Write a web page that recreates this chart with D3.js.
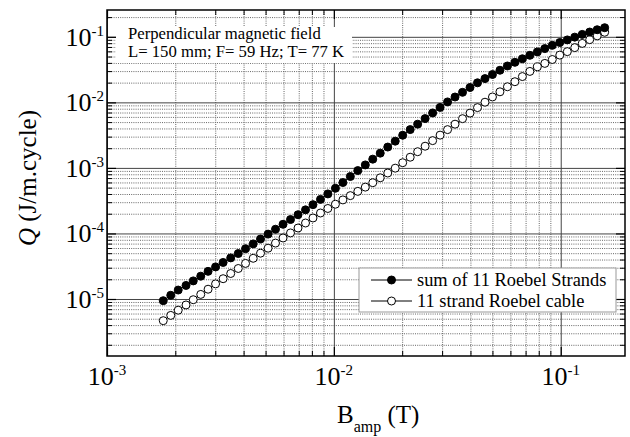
<!DOCTYPE html>
<html>
<head>
<meta charset="utf-8">
<script src="https://cdn.jsdelivr.net/npm/d3@7"></script>
<style>
  body { margin: 0; background: #fff; }
  text { font-family: "Liberation Serif", "Times New Roman", serif; fill: #000; }
</style>
</head>
<body>
<div id="chart"></div>
<script>
// B amplitude (T), shared by both series
const bAmp = [
  0.00177, 0.00191, 0.00206, 0.00223, 0.00240, 0.00259, 0.00279, 0.00301, 0.00325, 0.00351,
  0.00379, 0.00408, 0.00441, 0.00475, 0.00513, 0.00553, 0.00597, 0.00644, 0.00695, 0.00750,
  0.00809, 0.00873, 0.00941, 0.01016, 0.01096, 0.01182, 0.01275, 0.01376, 0.01484, 0.01601,
  0.01728, 0.01864, 0.02011, 0.02170, 0.02341, 0.02525, 0.02725, 0.02939, 0.03171, 0.03421,
  0.03691, 0.03982, 0.04297, 0.04636, 0.05001, 0.05396, 0.05821, 0.06280, 0.06776, 0.07310,
  0.07887, 0.08509, 0.09180, 0.09904, 0.1069, 0.1153, 0.1244, 0.1342, 0.1448, 0.1562
];
// Q (J/m.cycle), sum of 11 Roebel strands
const qStrands = [
  9.42e-6, 1.14e-5, 1.37e-5, 1.61e-5, 1.89e-5, 2.23e-5, 2.64e-5, 3.09e-5, 3.61e-5, 4.24e-5,
  4.94e-5, 5.85e-5, 6.93e-5, 8.22e-5, 9.77e-5, 1.16e-4, 1.38e-4, 1.63e-4, 1.93e-4, 2.29e-4,
  2.75e-4, 3.31e-4, 4.01e-4, 4.89e-4, 5.98e-4, 7.39e-4, 9.10e-4, 1.11e-3, 1.36e-3, 1.68e-3,
  2.08e-3, 2.56e-3, 3.15e-3, 3.84e-3, 4.65e-3, 5.65e-3, 6.89e-3, 8.38e-3, 1.016e-2, 1.207e-2,
  1.423e-2, 1.686e-2, 1.988e-2, 2.303e-2, 2.661e-2, 3.090e-2, 3.589e-2, 4.083e-2, 4.624e-2, 5.224e-2,
  5.888e-2, 6.607e-2, 7.413e-2, 8.185e-2, 8.97e-2, 9.89e-2, 0.1089, 0.1183, 0.1282, 0.1377
];
// Q (J/m.cycle), 11 strand Roebel cable
const qCable = [
  4.67e-6, 5.62e-6, 6.75e-6, 8.11e-6, 9.75e-6, 1.175e-5, 1.41e-5, 1.70e-5, 2.04e-5, 2.45e-5,
  2.92e-5, 3.49e-5, 4.18e-5, 5.00e-5, 5.96e-5, 7.13e-5, 8.53e-5, 1.018e-4, 1.211e-4, 1.443e-4,
  1.722e-4, 2.051e-4, 2.405e-4, 2.793e-4, 3.251e-4, 3.776e-4, 4.385e-4, 5.093e-4, 5.943e-4, 7.063e-4,
  8.36e-4, 9.91e-4, 1.200e-3, 1.456e-3, 1.766e-3, 2.143e-3, 2.606e-3, 3.163e-3, 3.838e-3, 4.645e-3,
  5.64e-3, 6.855e-3, 8.32e-3, 1.005e-2, 1.209e-2, 1.449e-2, 1.730e-2, 2.066e-2, 2.475e-2, 2.966e-2,
  3.481e-2, 3.93e-2, 4.505e-2, 5.26e-2, 5.94e-2, 6.84e-2, 7.93e-2, 9.05e-2, 0.1033, 0.1173
];
const seriesNames = ["sum of 11 Roebel Strands", "11 strand Roebel cable"];
const noteLines = ["Perpendicular magnetic field", "L= 150 mm; F= 59 Hz; T= 77 K"];
const xDecades = [1e-3, 1e-2, 1e-1];
const xExp = ["-3", "-2", "-1"];
const yDecades = [1e-5, 1e-4, 1e-3, 1e-2, 1e-1];
const yExp = ["-5", "-4", "-3", "-2", "-1"];

const width = 630, height = 437;
const margin = {top: 10, right: 5, bottom: 81, left: 107};
const iw = width - margin.left - margin.right;
const ih = height - margin.top - margin.bottom;

const x = d3.scaleLog().domain([1e-3, 0.192]).range([0, iw]);
const y = d3.scaleLog().domain([1.35e-6, 0.2565]).range([ih, 0]);

// minor positions 2..9 x 10^k inside each domain
function minors(scale) {
  const [lo, hi] = scale.domain();
  const out = [];
  for (let k = -7; k <= 1; k++) {
    for (let j = 2; j <= 9; j++) {
      const v = j * Math.pow(10, k);
      if (v > lo && v < hi) out.push(v);
    }
  }
  return out;
}
const xMinor = minors(x), yMinor = minors(y);

const svg = d3.select("#chart").append("svg")
  .attr("width", width)
  .attr("height", height)
  .style("background", "#fff");

const g = svg.append("g").attr("transform", `translate(${margin.left},${margin.top})`);

const noLabel = () => "";
const clean = sel => sel.select(".domain").remove();

// grid: minor dotted, major solid
g.append("g").attr("transform", `translate(0,${ih})`)
  .call(d3.axisBottom(x).tickValues(xMinor).tickSize(-ih).tickFormat(noLabel))
  .call(clean)
  .selectAll("line").attr("stroke", "#666").attr("stroke-dasharray", "1,1.2");
g.append("g")
  .call(d3.axisLeft(y).tickValues(yMinor).tickSize(-iw).tickFormat(noLabel))
  .call(clean)
  .selectAll("line").attr("stroke", "#666").attr("stroke-dasharray", "1,1.2");
g.append("g").attr("transform", `translate(0,${ih})`)
  .call(d3.axisBottom(x).tickValues(xDecades).tickSize(-ih).tickFormat(noLabel))
  .call(clean)
  .selectAll("line").attr("stroke", "#444");
g.append("g")
  .call(d3.axisLeft(y).tickValues(yDecades).tickSize(-iw).tickFormat(noLabel))
  .call(clean)
  .selectAll("line").attr("stroke", "#444");

// note box (white, hides the grid)
const note = svg.append("g");
note.append("rect")
  .attr("x", 116).attr("y", 27).attr("width", 236).attr("height", 36)
  .attr("fill", "#fff");
note.selectAll("text").data(noteLines).join("text")
  .attr("x", 128)
  .attr("y", (d, i) => 39 + i * 18)
  .attr("font-size", "16.7px")
  .text(d => d);

// data
const strands = bAmp.map((b, i) => [b, qStrands[i]]);
const cable = bAmp.map((b, i) => [b, qCable[i]]);
const line = d3.line().x(d => x(d[0])).y(d => y(d[1]));

[cable, strands].forEach(data => {
  const filled = data === strands;
  g.append("path").datum(data)
    .attr("d", line)
    .attr("fill", "none")
    .attr("stroke", "#000")
    .attr("stroke-width", 1);
  g.append("g").selectAll("circle").data(data).join("circle")
    .attr("cx", d => x(d[0]))
    .attr("cy", d => y(d[1]))
    .attr("r", 4)
    .attr("fill", filled ? "#000" : "#fff")
    .attr("stroke", "#000")
    .attr("stroke-width", 1);
});

// legend
const legend = svg.append("g");
legend.append("rect")
  .attr("x", 359).attr("y", 268).attr("width", 257).attr("height", 44)
  .attr("fill", "#fff").attr("stroke", "#999").attr("stroke-width", 1);
const rows = legend.selectAll("g.row").data(seriesNames).join("g")
  .attr("class", "row")
  .attr("transform", (d, i) => `translate(0,${280 + i * 21})`);
rows.append("line")
  .attr("x1", 371).attr("x2", 412).attr("y1", 0).attr("y2", 0)
  .attr("stroke", "#000");
rows.append("circle")
  .attr("cx", 391.5).attr("cy", 0).attr("r", 4)
  .attr("fill", (d, i) => i === 0 ? "#000" : "#fff")
  .attr("stroke", "#000");
rows.append("text")
  .attr("x", 417).attr("y", 6)
  .attr("font-size", "18.4px")
  .text(d => d);

// inner ticks on all four sides
const tickAxes = [
  [d3.axisBottom, `translate(0,${ih})`, x],
  [d3.axisTop, "translate(0,0)", x],
  [d3.axisLeft, "translate(0,0)", y],
  [d3.axisRight, `translate(${iw},0)`, y]
];
tickAxes.forEach(([axis, tr, sc]) => {
  const minorVals = sc === x ? xMinor : yMinor;
  const majorVals = sc === x ? xDecades : yDecades;
  g.append("g").attr("transform", tr)
    .call(axis(sc).tickValues(minorVals).tickSize(-5).tickFormat(noLabel))
    .call(clean)
    .selectAll("line").attr("stroke", "#000");
  g.append("g").attr("transform", tr)
    .call(axis(sc).tickValues(majorVals).tickSize(-9).tickFormat(noLabel))
    .call(clean)
    .selectAll("line").attr("stroke", "#000").attr("stroke-width", 1.2);
});

// frame
g.append("rect")
  .attr("width", iw).attr("height", ih)
  .attr("fill", "none").attr("stroke", "#000").attr("stroke-width", 1.5);

// tick labels
const xl = svg.append("g").selectAll("text").data(xDecades).join("text")
  .attr("x", d => margin.left + x(d))
  .attr("y", 385)
  .attr("text-anchor", "middle")
  .attr("font-size", "26px");
xl.append("tspan").text("10");
xl.append("tspan").attr("dy", -10).attr("font-size", "15px").text((d, i) => xExp[i]);

const yl = svg.append("g").selectAll("text").data(yDecades).join("text")
  .attr("x", 104)
  .attr("y", d => margin.top + y(d) + 9)
  .attr("text-anchor", "end")
  .attr("font-size", "26px");
yl.append("tspan").text("10");
yl.append("tspan").attr("dy", -10).attr("font-size", "15px").text((d, i) => yExp[i]);

// axis titles
const xt = svg.append("text")
  .attr("x", 337).attr("y", 423)
  .attr("font-size", "25px");
xt.append("tspan").text("B");
xt.append("tspan").attr("dy", 9).attr("font-size", "16px").text("amp");
xt.append("tspan").attr("dy", -9).text(" (T)");

const yt = svg.append("text")
  .attr("transform", "translate(36,178) rotate(-90)")
  .attr("text-anchor", "middle")
  .attr("font-size", "25px");
yt.append("tspan").attr("font-style", "italic").text("Q");
yt.append("tspan").text(" (J/m.cycle)");
</script>
</body>
</html>
